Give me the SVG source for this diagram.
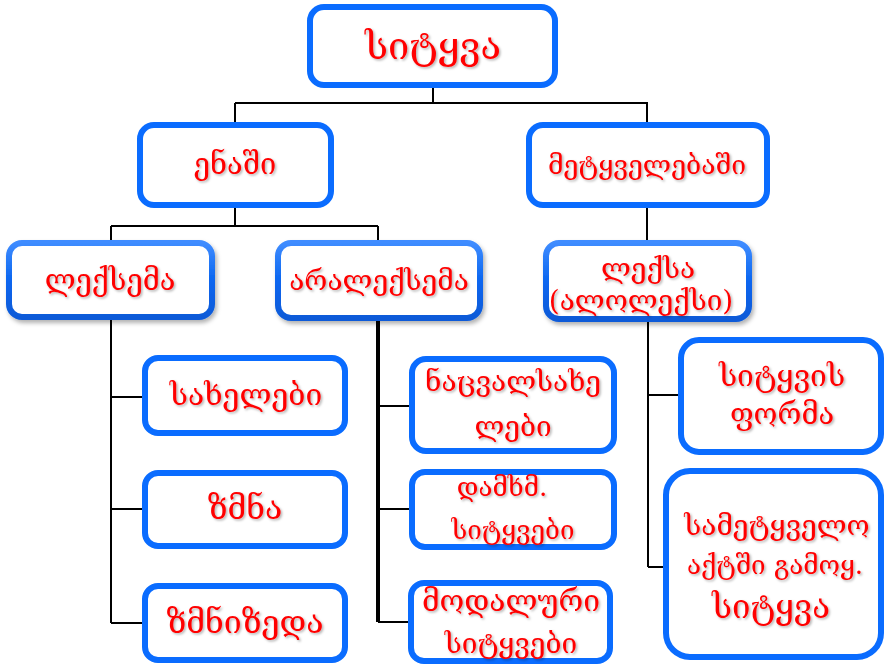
<svg xmlns="http://www.w3.org/2000/svg" width="885" height="666" viewBox="0 0 885 666">
<style>
.box{fill:#fff;stroke:#0a6cff;stroke-width:6}
.bev{fill:#fff;stroke:url(#bevel);stroke-width:6}
.t{fill:#ff0000;font-family:"DejaVu Serif","DejaVu Sans",serif;font-size:29px;text-anchor:middle;dominant-baseline:central;filter:url(#sh)}
.c{fill:none;stroke:#000;stroke-width:2}
</style>
<defs>
<filter id="sh" x="-10%" y="-20%" width="130%" height="150%">
<feDropShadow dx="1.5" dy="1.5" stdDeviation="0.8" flood-color="#000" flood-opacity="0.3"/>
</filter>
<filter id="bs" x="-10%" y="-10%" width="125%" height="130%">
<feDropShadow dx="2" dy="3" stdDeviation="2" flood-color="#000" flood-opacity="0.3"/>
</filter>
<linearGradient id="bevel" x1="0" y1="0" x2="0" y2="1">
<stop offset="0" stop-color="#3f8cff"/>
<stop offset="0.5" stop-color="#0a66f0"/>
<stop offset="1" stop-color="#0a5ad8"/>
</linearGradient>
</defs>
<g id="connectors">
<path class="c" d="M433 88V103M235 103H648M235 103V122M647 103V122"/>
<path class="c" d="M235 208V226M111 226H378M111 226V240M378 226V240"/>
<path class="c" d="M647 208V240"/>
<path class="c" d="M111 320V623M111 397H142M111 509H142M111 623H142"/>
<path class="c" style="stroke-width:4px" d="M378 321V622"/>
<path class="c" d="M378 406H409M378 509H409M378 622H408"/>
<path class="c" d="M648 300V567M648 395H678M648 567H663"/>
</g>
<g id="n-sitkva"><rect class="box" x="310" y="7" width="245" height="78" rx="14"/><text class="t" x="433" y="46" style="font-size:38px">სიტყვა</text></g>
<g id="n-enashi"><rect class="box" x="140" y="125" width="191" height="80" rx="14"/><text class="t" x="235" y="164">ენაში</text></g>
<g id="n-metkvelebashi"><rect class="box" x="529" y="125" width="238" height="80" rx="14"/><text class="t" x="647" y="164" style="font-size:26.5px">მეტყველებაში</text></g>
<g id="n-leksema" filter="url(#bs)"><rect class="bev" x="9" y="243" width="203" height="74" rx="13"/><text class="t" x="110" y="280">ლექსემა</text></g>
<g id="n-aralekseme" filter="url(#bs)"><rect class="bev" x="278" y="243" width="202" height="75" rx="13"/><text class="t" x="379" y="280" style="font-size:28px">არალექსემა</text></g>
<g id="n-leksa" filter="url(#bs)"><rect class="bev" x="546" y="243" width="203" height="76" rx="13"/><text class="t" x="648" y="268" style="font-size:28px">ლექსა</text><text class="t" x="641" y="300" style="font-size:28px">(ალოლექსი)</text></g>
<g id="n-saxelebi"><rect class="box" x="145" y="358" width="200" height="75" rx="13"/><text class="t" x="246" y="394" style="font-size:30px">სახელები</text></g>
<g id="n-zmna"><rect class="box" x="145" y="473" width="200" height="73" rx="13"/><text class="t" x="245" y="508" style="font-size:32px">ზმნა</text></g>
<g id="n-zmnizeda"><rect class="box" x="145" y="586" width="200" height="74" rx="13"/><text class="t" x="245" y="622" style="font-size:32px">ზმნიზედა</text></g>
<g id="n-nacvalsaxelebi"><rect class="box" x="412" y="359" width="202" height="92" rx="14"/><text class="t" x="513" y="381" style="font-size:28px">ნაცვალსახე</text><text class="t" x="513" y="426" style="font-size:28px">ლები</text></g>
<g id="n-damxm"><rect class="box" x="412" y="472" width="202" height="75" rx="13"/><text class="t" x="502" y="487" style="font-size:26px">დამხმ.</text><text class="t" x="513" y="530" style="font-size:26px">სიტყვები</text></g>
<g id="n-modaluri"><rect class="box" x="411" y="583" width="199" height="78" rx="13"/><text class="t" x="511" y="600" style="font-size:30px">მოდალური</text><text class="t" x="511" y="643" style="font-size:28px">სიტყვები</text></g>
<g id="n-sitkvis-forma"><rect class="box" x="681" y="340" width="200" height="112" rx="18"/><text class="t" x="782" y="375" style="font-size:30px">სიტყვის</text><text class="t" x="782" y="414">ფორმა</text></g>
<g id="n-sametkvelo"><rect class="box" x="666" y="471" width="215" height="186" rx="24"/><text class="t" x="777" y="525" style="font-size:28px">სამეტყველო</text><text class="t" x="775" y="565" style="font-size:26px">აქტში გამოყ.</text><text class="t" x="771" y="606" style="font-size:33px">სიტყვა</text></g>
</svg>
